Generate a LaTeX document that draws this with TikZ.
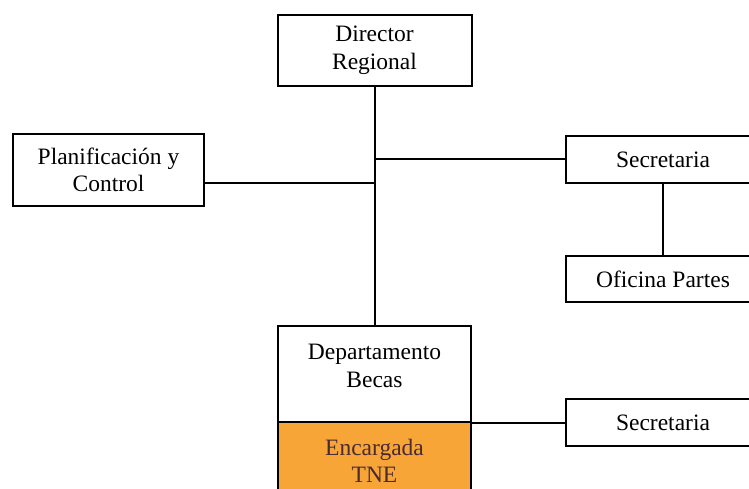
\documentclass[tikz,border=0pt]{standalone}
\usepackage{fontspec}
\setmainfont{Liberation Serif}
\definecolor{tneorange}{HTML}{F7A537}
\definecolor{tnetext}{HTML}{4A2A33}
\begin{document}
\begin{tikzpicture}[x=1pt,y=-1pt,
  unit/.style={draw=black,line width=2pt,fill=white,inner sep=0pt,
    align=center,font=\rmfamily\fontsize{23.5}{27.5}\selectfont},
  caption/.style={inner sep=0pt,align=center,font=\rmfamily\fontsize{23.5}{27.5}\selectfont},
  link/.style={line width=2pt}]
\clip (0,0) rectangle (749,489);
\fill[white] (0,0) rectangle (749,489);
% boxes
\node[unit,minimum width=194pt,minimum height=71pt] (dir) at (374.5,50.5) {Director\\Regional};
\node[unit,minimum width=191pt,minimum height=72pt] (plan) at (108.5,170) {Planificación y\\Control};
\node[unit,minimum width=194pt,minimum height=47pt] (sec1) at (663,159.5) {Secretaria};
\node[unit,minimum width=194pt,minimum height=46pt] (ofi) at (663,279) {Oficina Partes};
\node[unit,minimum width=193pt,minimum height=96pt] (dep) at (374.5,374) {};
\node[caption] (deplabel) at (374.5,366) {Departamento\\Becas};
\node[unit,fill=tneorange,text=tnetext,minimum width=193pt,minimum height=78pt] (tne) at (374.5,461) {Encargada\\TNE};
\node[unit,minimum width=194pt,minimum height=47pt] (sec2) at (663,422.5) {Secretaria};
% connectors
\coordinate (js) at (374.5,159);
\coordinate (jp) at (374.5,183);
\draw[link] (dir.south) -- (dep.north);
\draw[link] (js) -- (js -| sec1.west);
\draw[link] (jp) -- (jp -| plan.east);
\draw[link] (sec1.south) -- (ofi.north);
\draw[link] (dep.south east) -- (dep.south east -| sec2.west);
\end{tikzpicture}
\end{document}
